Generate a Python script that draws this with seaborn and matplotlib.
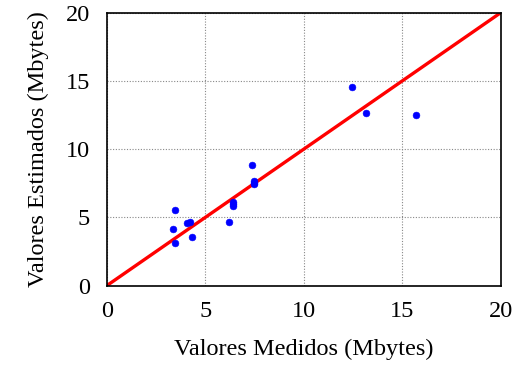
import matplotlib
matplotlib.use("Agg")
import matplotlib.pyplot as plt
import seaborn as sns
import pandas as pd

# Measured vs. estimated sizes (Mbytes)
medidos = [12.44, 13.15, 15.72, 7.39, 7.48, 7.48, 7.48, 6.43, 6.43, 6.43,
           6.19, 3.49, 3.38, 3.49, 4.09, 4.21, 4.35]
estimados = [14.53, 12.67, 12.53, 8.84, 7.69, 7.55, 7.42, 6.15, 6.00, 5.84,
             4.69, 5.54, 4.13, 3.10, 4.57, 4.69, 3.54]
ideal = [0, 20]
ticks = [0, 5, 10, 15, 20]

df = pd.DataFrame({"medidos": medidos, "estimados": estimados})
df_ideal = pd.DataFrame({"x": ideal, "y": ideal})

sns.set_theme(style="white")
plt.rcParams["font.family"] = ["Liberation Serif", "DejaVu Serif"]

fig = plt.figure(figsize=(5.22, 3.66), dpi=100)
ax = fig.add_axes([106.7 / 522, 1 - 285.7 / 366, 394 / 522, 273 / 366])

ax.grid(True, color="#888888", linestyle=(0, (1, 1.5)), linewidth=0.8)
ax.set_axisbelow(True)

sns.lineplot(data=df_ideal, x="x", y="y", ax=ax, color="#ff0000", linewidth=2.4, zorder=2)
sns.scatterplot(data=df, x="medidos", y="estimados", ax=ax, color="#0000ff",
                marker="o", s=24, edgecolor="#0000ff", linewidth=0.4, zorder=3)

ax.set_xlim(0, 20)
ax.set_ylim(0, 20)
ax.set_xticks(ticks)
ax.set_yticks(ticks)
ax.tick_params(axis="both", length=0, labelsize=17.5, colors="black")
ax.tick_params(axis="x", pad=11)
ax.tick_params(axis="y", pad=12)
for sp in ax.spines.values():
    sp.set_color("black")
    sp.set_linewidth(1.2)
    sp.set_zorder(4)

ax.set_xlabel("Valores Medidos (Mbytes)", fontsize=17.5, labelpad=12, color="black")
ax.set_ylabel("Valores Estimados (Mbytes)", fontsize=17.5, labelpad=12, color="black")

fig.savefig("out.png", dpi=100)
